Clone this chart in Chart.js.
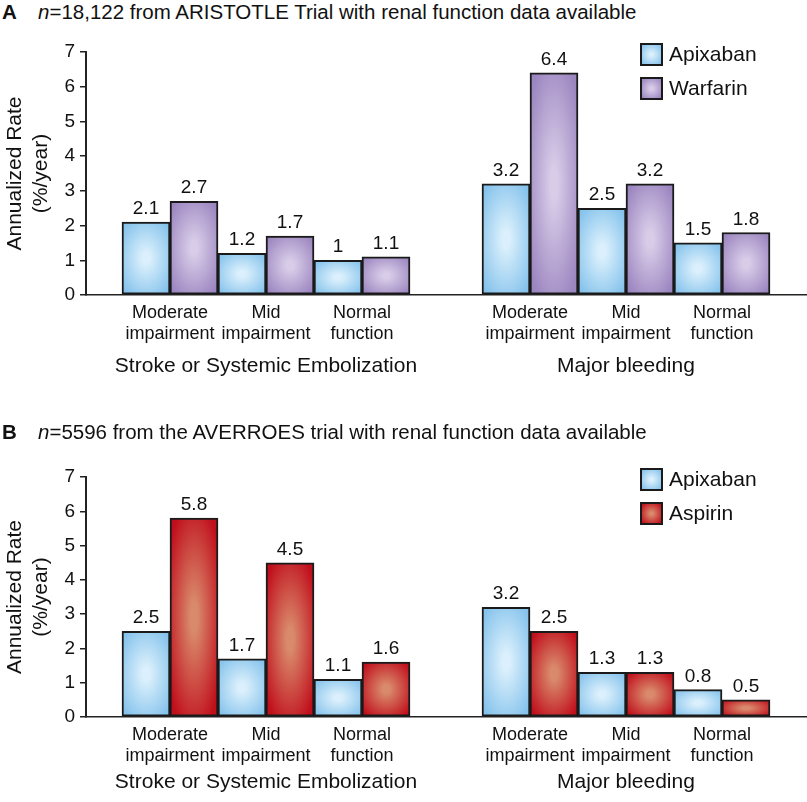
<!DOCTYPE html>
<html><head><meta charset="utf-8">
<script src="https://cdn.jsdelivr.net/npm/chart.js@4/dist/chart.umd.min.js"></script>
<style>
html,body{margin:0;padding:0;background:#fff;}
body{width:807px;height:802px;position:relative;overflow:hidden;font-family:"Liberation Sans",Arial,Helvetica,sans-serif;color:#111;}
.ttl{position:absolute;left:2px;font-size:20.5px;line-height:24px;white-space:nowrap;color:#111;}
.ttl b{display:inline-block;width:36px;}
canvas{position:absolute;left:0;}
</style></head><body>
<div class="ttl" style="top:0px"><b>A</b><i>n</i>=18,122 from ARISTOTLE Trial with renal function data available</div>
<canvas id="cA" width="807" height="380" style="top:0px"></canvas>
<canvas id="cB" width="807" height="382" style="top:420px"></canvas>
<div class="ttl" style="top:420px"><b>B</b><i>n</i>=5596 from the AVERROES trial with renal function data available</div>
<script>
// ---------- data ----------
const categoryLabels = [["Moderate","impairment"],["Mid","impairment"],["Normal","function"]];
const outcomeLabels = ["Stroke or Systemic Embolization","Major bleeding"];
const yTickValues = [0,1,2,3,4,5,6,7];
const seriesNamesA = ["Apixaban","Warfarin"];
const apixabanA = [2.1, 1.2, 1, 3.2, 2.5, 1.5];
const warfarinA = [2.7, 1.7, 1.1, 6.4, 3.2, 1.8];
const seriesNamesB = ["Apixaban","Aspirin"];
const apixabanB = [2.5, 1.7, 1.1, 3.2, 1.3, 0.8];
const aspirinB  = [5.8, 4.5, 1.6, 2.5, 1.3, 0.5];

// ---------- styles ----------
const FONT = '"Liberation Sans", Arial, Helvetica, sans-serif';
Chart.defaults.font.family = FONT;
Chart.defaults.color = '#111';
const COL = {
  Apixaban: {center:'#dbf0fc', edge:'#86c3ec'},
  Warfarin: {center:'#d8cce8', edge:'#9c86c0'},
  Aspirin:  {center:'#d98a6c', edge:'#c00f1c'}
};

// ---------- layout helpers (slot positions on the linear x scale) ----------
const NCAT = categoryLabels.length, GROUP_GAP = 0.75, SIDE = 0.875;
function slot(i){ const g = Math.floor(i / NCAT), c = i % NCAT; return g * (NCAT + GROUP_GAP) + c; }
const nBars = outcomeLabels.length * NCAT;
const catSlots = Array.from({length:nBars}, (_, i) => slot(i));
const groupSlots = outcomeLabels.map((_, g) => g * (NCAT + GROUP_GAP) + (NCAT - 1) / 2);
const xMin = -SIDE, xMax = slot(nBars - 1) + SIDE;

// ---------- gradient fill ----------
const S = 64, gradCache = {};
function gradCanvas(c){
  const key = c.center + c.edge;
  if (gradCache[key]) return gradCache[key];
  const oc = document.createElement('canvas'); oc.width = oc.height = S;
  const g = oc.getContext('2d');
  const rg = g.createRadialGradient(S/2, S/2, 0, S/2, S/2, S * 0.6);
  rg.addColorStop(0, c.center); rg.addColorStop(0.12, c.center); rg.addColorStop(1, c.edge);
  g.fillStyle = rg; g.fillRect(0, 0, S, S);
  return gradCache[key] = oc;
}
function makeFill(ctx2d, c, left, top, w, h){
  const p = ctx2d.createPattern(gradCanvas(c), 'no-repeat');
  p.setTransform(new DOMMatrix([w / S, 0, 0, h / S, left, top]));
  return p;
}

const valueLabels = {
  id: 'valueLabels',
  afterDatasetsDraw(chart){
    const c = chart.ctx; c.save();
    c.font = '19px ' + FONT; c.fillStyle = '#111'; c.textAlign = 'center'; c.textBaseline = 'alphabetic';
    chart.data.datasets.forEach((ds, di) => {
      chart.getDatasetMeta(di).data.forEach((el, i) => { c.fillText(String(ds.data[i].y), el.x, el.y - 8); });
    });
    c.restore();
  }
};
const boxLegend = {
  id: 'boxLegend',
  afterDraw(chart){
    const c = chart.ctx, a = chart.chartArea; c.save();
    const x = a.right - 165, y0 = a.top - 8;
    chart.data.datasets.forEach((ds, i) => {
      const by = y0 + i * 34;
      c.fillStyle = makeFill(c, ds.gradColors, x, by, 21, 21);
      c.fillRect(x, by, 21, 21);
      c.lineWidth = 2; c.strokeStyle = '#1a1a1a'; c.strokeRect(x, by, 21, 21);
      c.fillStyle = '#111'; c.font = '21px ' + FONT; c.textAlign = 'left'; c.textBaseline = 'middle';
      c.fillText(ds.label, x + 28, by + 11.5);
    });
    c.restore();
  }
};

function makeChart(id, names, seriesList, topPad, groupPad){
  const datasets = seriesList.map((vals, k) => {
    const colors = COL[names[k]];
    return {
      label: names[k],
      gradColors: colors,
      data: vals.map((v, i) => ({x: catSlots[i], y: v})),
      borderColor: '#1a1a1a', borderWidth: 2, borderSkipped: false,
      barPercentage: 1, categoryPercentage: 1,
      backgroundColor: (ctx) => {
        const el = ctx.element;
        if (!el || !isFinite(el.x) || !isFinite(el.width) || !isFinite(el.base)) return colors.edge;
        const top = Math.min(el.y, el.base), h = Math.abs(el.base - el.y);
        return makeFill(ctx.chart.ctx, colors, el.x - el.width / 2 - 1, top - 1, el.width + 2, h + 2);
      }
    };
  });
  const chart = new Chart(document.getElementById(id), {
    type: 'bar',
    data: {datasets},
    options: {
      responsive: false, animation: false, events: [],
      layout: {padding: {top: topPad, right: 1, left: 0, bottom: 0}},
      plugins: {legend: {display: false}, tooltip: {enabled: false}, title: {display: false}},
      scales: {
        x: {
          type: 'linear', min: xMin, max: xMax, offset: false, weight: 0,
          grid: {display: false, drawTicks: false},
          border: {display: true, color: '#222', width: 1.5},
          afterBuildTicks: (s) => { s.ticks = catSlots.map(v => ({value: v})); },
          afterFit: (s) => { s.height = 50; },
          ticks: {autoSkip: false, maxRotation: 0, minRotation: 0, padding: 8, color: '#111',
            font: {size: 18, lineHeight: 21/18},
            callback: (v, i) => categoryLabels[i % NCAT]}
        },
        x2: {
          type: 'linear', position: 'bottom', min: xMin, max: xMax, offset: false, weight: 1,
          grid: {display: false, drawTicks: false}, border: {display: false},
          afterBuildTicks: (s) => { s.ticks = groupSlots.map(v => ({value: v})); },
          afterFit: (s) => { s.height = 35; },
          ticks: {autoSkip: false, maxRotation: 0, minRotation: 0, padding: groupPad, color: '#111',
            font: {size: 21, lineHeight: 1.2},
            callback: (v, i) => outcomeLabels[i]}
        },
        y: {
          min: yTickValues[0], max: yTickValues[yTickValues.length - 1],
          afterBuildTicks: (s) => { s.ticks = yTickValues.map(v => ({value: v})); },
          afterFit: (s) => { s.width = 86; },
          grid: {display: true, drawOnChartArea: false, drawTicks: true, tickLength: 6, color: '#222', lineWidth: 1.5},
          border: {display: true, color: '#222', width: 2},
          ticks: {padding: 5, color: '#111', font: {size: 19}},
          title: {display: true, text: ['Annualized Rate', '(%/year)'], color: '#111',
            font: {size: 21, lineHeight: 26/21}, padding: {top: 2, bottom: 0}}
        }
      }
    },
    plugins: [valueLabels, boxLegend]
  });
  chart.update();
  return chart;
}

makeChart('cA', seriesNamesA, [apixabanA, warfarinA], 52, 9);
makeChart('cB', seriesNamesB, [apixabanB, aspirinB], 57, 2.5);
</script>
</body></html>
